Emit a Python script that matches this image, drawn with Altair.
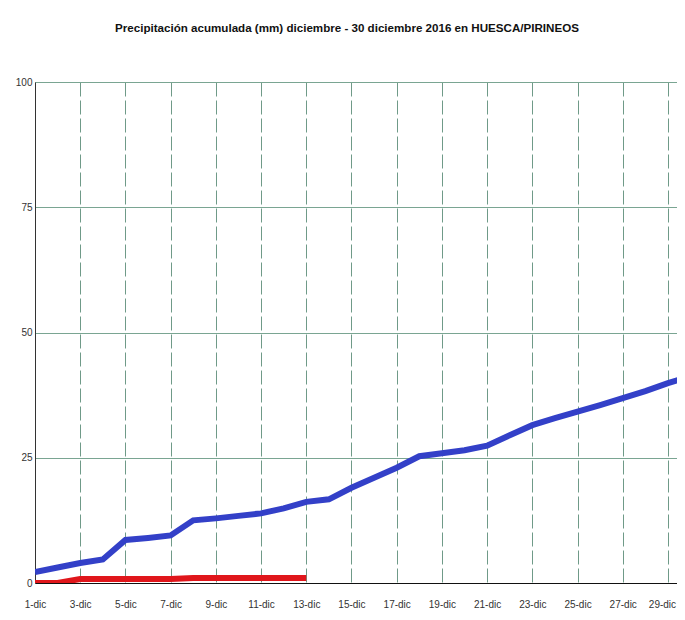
import altair as alt
import pandas as pd

dias = list(range(1, 31))
acumulada_media = [2.2, 3.1, 4.0, 4.7, 8.6, 9.0, 9.5, 12.5, 12.9, 13.4, 13.9, 14.9, 16.2, 16.7,
                   19.0, 21.0, 23.0, 25.3, 25.9, 26.5, 27.4, 29.5, 31.5, 32.9, 34.2, 35.5,
                   36.9, 38.3, 39.9, 41.3]
dias_2016 = list(range(1, 14))
acumulada_2016 = [0, 0, 0.8, 0.8, 0.8, 0.8, 0.8, 1.0, 1.0, 1.0, 1.0, 1.0, 1.0]
ticks_x = list(range(1, 30, 2))
ticks_y = [0, 25, 50, 75, 100]

FONT = "Liberation Sans, Arial, sans-serif"

df_media = pd.DataFrame({"dia": dias, "mm": acumulada_media})
df_2016 = pd.DataFrame({"dia": dias_2016, "mm": acumulada_2016})

x_enc = alt.X("dia:Q",
              scale=alt.Scale(domain=[1, 29.4], nice=False, zero=False),
              axis=alt.Axis(values=ticks_x, labelExpr="datum.value + '-dic'", title=None,
                            ticks=False, labelPadding=16, grid=True, gridDash=[14, 4],
                            gridColor="#6f9a88", gridOpacity=1, domainColor="#111",
                            labelFont=FONT, labelFontSize=10,
                            labelOffset=alt.ExprRef("datum.value == 29 ? -6 : 0"),
                            labelColor="#333", labelFlush=False))
y_enc = alt.Y("mm:Q",
              scale=alt.Scale(domain=[0, 100], nice=False),
              axis=alt.Axis(values=ticks_y, title=None, ticks=False, labelPadding=3,
                            grid=True, gridColor="#7aa592", gridOpacity=1,
                            domainColor="#333", labelFont=FONT,
                            labelFontSize=10, labelColor="#333"))

media = alt.Chart(df_media).mark_line(color="#3340c8", strokeWidth=6, clip=True).encode(x=x_enc, y=y_enc)
actual = alt.Chart(df_2016).mark_line(color="#e0161b", strokeWidth=6, clip=True).encode(x="dia:Q", y="mm:Q")

chart = alt.layer(media, actual).properties(
    width=642, height=501,
    title=alt.TitleParams("Precipitación acumulada (mm) diciembre - 30 diciembre 2016 en HUESCA/PIRINEOS",
                          font=FONT, fontSize=11.6, fontWeight="bold",
                          color="#111", offset=42, anchor="middle", frame="group", dx=-9),
    autosize=alt.AutoSizeParams(type="none"),
    padding={"left": 27, "top": 74, "right": 0, "bottom": 28},
).configure_view(fill="#b4f7da", stroke="#444").configure(background="white")

chart.save("out.html", embed_options={"renderer": "svg", "actions": False})
